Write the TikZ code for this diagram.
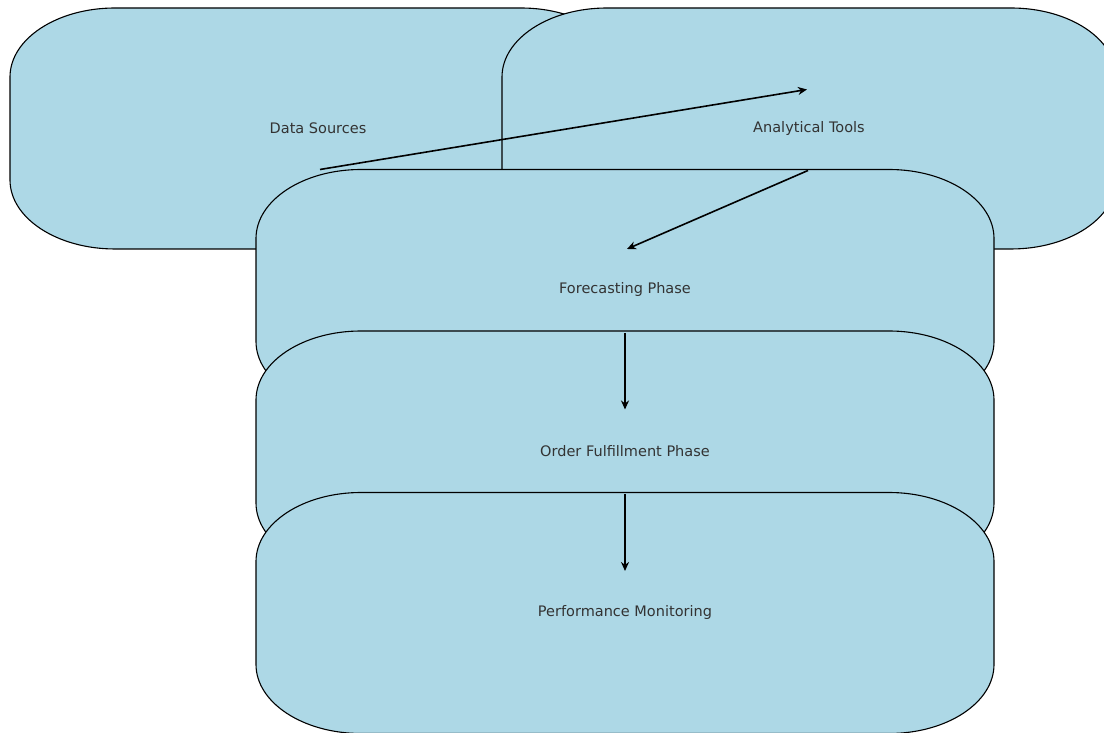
\documentclass[tikz,border=0pt]{standalone}
\usepackage{fontspec}
\setmainfont{DejaVu Sans}
\usetikzlibrary{calc,arrows.meta}
\definecolor{boxfill}{RGB}{173,216,230}
\definecolor{txt}{RGB}{51,51,51}
\tikzset{
  boxshape/.style={fill=boxfill,draw=black,line width=1.1pt},
  boxlabel/.style={text=txt,font=\fontsize{14.5}{17}\selectfont,inner sep=0pt},
  flow/.style={draw=black,line width=1.6pt,-{Stealth[length=9pt,width=8pt]}}
}
% #1 name, #2 cx, #3 cy (image coords), #4 half width, #5 text
\newcommand\flowbox[5]{%
  \filldraw[boxshape] ({#2-#4+105},{733-#3+120.5}) -- ({#2+#4-105},{733-#3+120.5})
    arc[start angle=90,end angle=0,x radius=105,y radius=69]
    -- ({#2+#4},{733-#3-120.5+69})
    arc[start angle=0,end angle=-90,x radius=105,y radius=69]
    -- ({#2-#4+105},{733-#3-120.5})
    arc[start angle=270,end angle=180,x radius=105,y radius=69]
    -- ({#2-#4},{733-#3+120.5-69})
    arc[start angle=180,end angle=90,x radius=105,y radius=69] -- cycle;
  \node[boxlabel] (#1) at (#2,{733-#3}) {#5};
}
\begin{document}
\begin{tikzpicture}[x=1pt,y=1pt]
\useasboundingbox (0,0) rectangle (1104,733);
\clip (0,0) rectangle (1104,733);
\flowbox{ds}{318}{128.5}{308}{Data Sources}
\flowbox{at}{809}{128.5}{307}{Analytical Tools}
\flowbox{fp}{625}{290}{369}{Forecasting Phase}
\flowbox{of}{625}{451.5}{369}{Order Fulfillment Phase}
\flowbox{pm}{625}{613}{369}{Performance Monitoring}
\coordinate (a1s) at ($(ds.center)+(2,-41)$);
\coordinate (a1e) at ($(at.center)+(-2,39)$);
\coordinate (a2s) at ($(at.center)+(-1,-42)$);
\coordinate (a2e) at ($(fp.center)+(2,41)$);
\coordinate (a3s) at ($(fp.center)+(0,-43)$);
\coordinate (a3e) at ($(of.center)+(0,42)$);
\coordinate (a4s) at ($(of.center)+(0,-43)$);
\coordinate (a4e) at ($(pm.center)+(0,42)$);
\draw[flow] (a1s) -- (a1e);
\draw[flow] (a2s) -- (a2e);
\draw[flow] (a3s) -- (a3e);
\draw[flow] (a4s) -- (a4e);
\end{tikzpicture}
\end{document}
